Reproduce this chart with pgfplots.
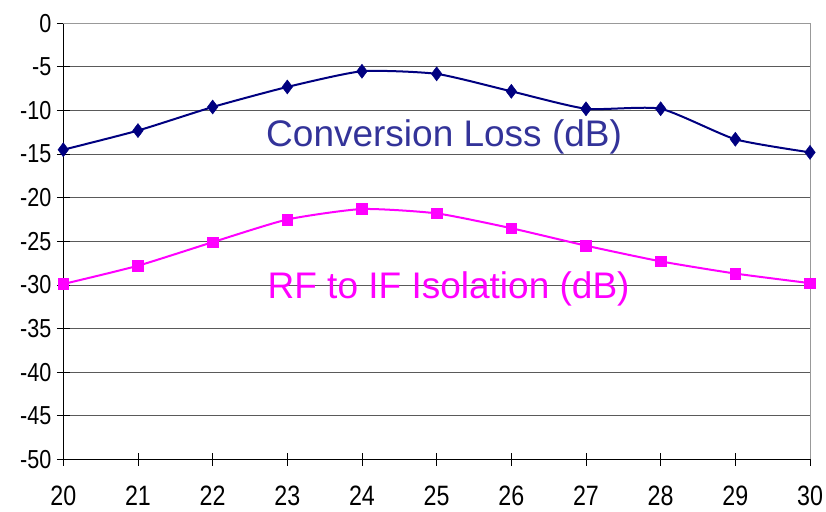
\documentclass[border=0pt]{standalone}
\usepackage{fontspec}
\setmainfont{Liberation Sans}
\usepackage{pgfplots}
\pgfplotsset{compat=1.18}
\definecolor{cl}{RGB}{0,0,128}
\definecolor{cltext}{RGB}{51,51,153}
\definecolor{iso}{RGB}{255,0,255}
\definecolor{gridc}{RGB}{90,90,90}

\begin{document}
\begin{tikzpicture}
\begin{axis}[
  scale only axis,
  width=746.7pt,height=436pt,
  xmin=20,xmax=30,ymin=-50,ymax=0,
  xtick={20,...,30},ytick={-50,-45,...,0},
  axis lines=left,axis line style={-,line width=1pt,black},
  ymajorgrids,grid style={gridc,line width=0.8pt},
  tick align=center,
  major tick length=13pt,
  tick style={black,line width=0.8pt},
  /pgf/number format/assume math mode=true,
  xticklabel style={font=\fontsize{28}{28}\selectfont,xscale=0.83,yshift=-17pt},
  yticklabel style={font=\fontsize{26}{26}\selectfont,xscale=0.83,xshift=-3pt},
  clip=false]
\addplot[cl,line width=2pt,smooth,tension=0.35,mark=diamond*,mark size=7pt,
  mark options={fill=cl,line width=0.5pt}] coordinates {
  (20,-14.5)(21,-12.3)(22,-9.6)(23,-7.3)(24,-5.5)(25,-5.8)
  (26,-7.8)(27,-9.8)(28,-9.8)(29,-13.3)(30,-14.8)};
\addplot[iso,line width=2pt,smooth,tension=0.35,mark=square*,mark size=5.3pt,
  mark options={fill=iso,line width=0.5pt}] coordinates {
  (20,-29.9)(21,-27.8)(22,-25.1)(23,-22.5)(24,-21.3)(25,-21.8)
  (26,-23.5)(27,-25.5)(28,-27.3)(29,-28.7)(30,-29.8)};
\draw[gray!80,line width=1pt] (rel axis cs:0,1) -- (rel axis cs:1,1) -- (rel axis cs:1,0);
\node[anchor=base,text=cltext,font=\fontsize{37}{37}\selectfont] at (axis cs:25.1,-14.15) {Conversion Loss (dB)};
\node[anchor=base,text=iso,font=\fontsize{37}{37}\selectfont] at (axis cs:25.16,-31.54) {RF to IF Isolation (dB)};
\end{axis}
\pgfresetboundingbox
\path[use as bounding box] (-63.3pt,-51.7pt) rectangle (762.7pt,459.3pt);
\end{tikzpicture}
\end{document}
